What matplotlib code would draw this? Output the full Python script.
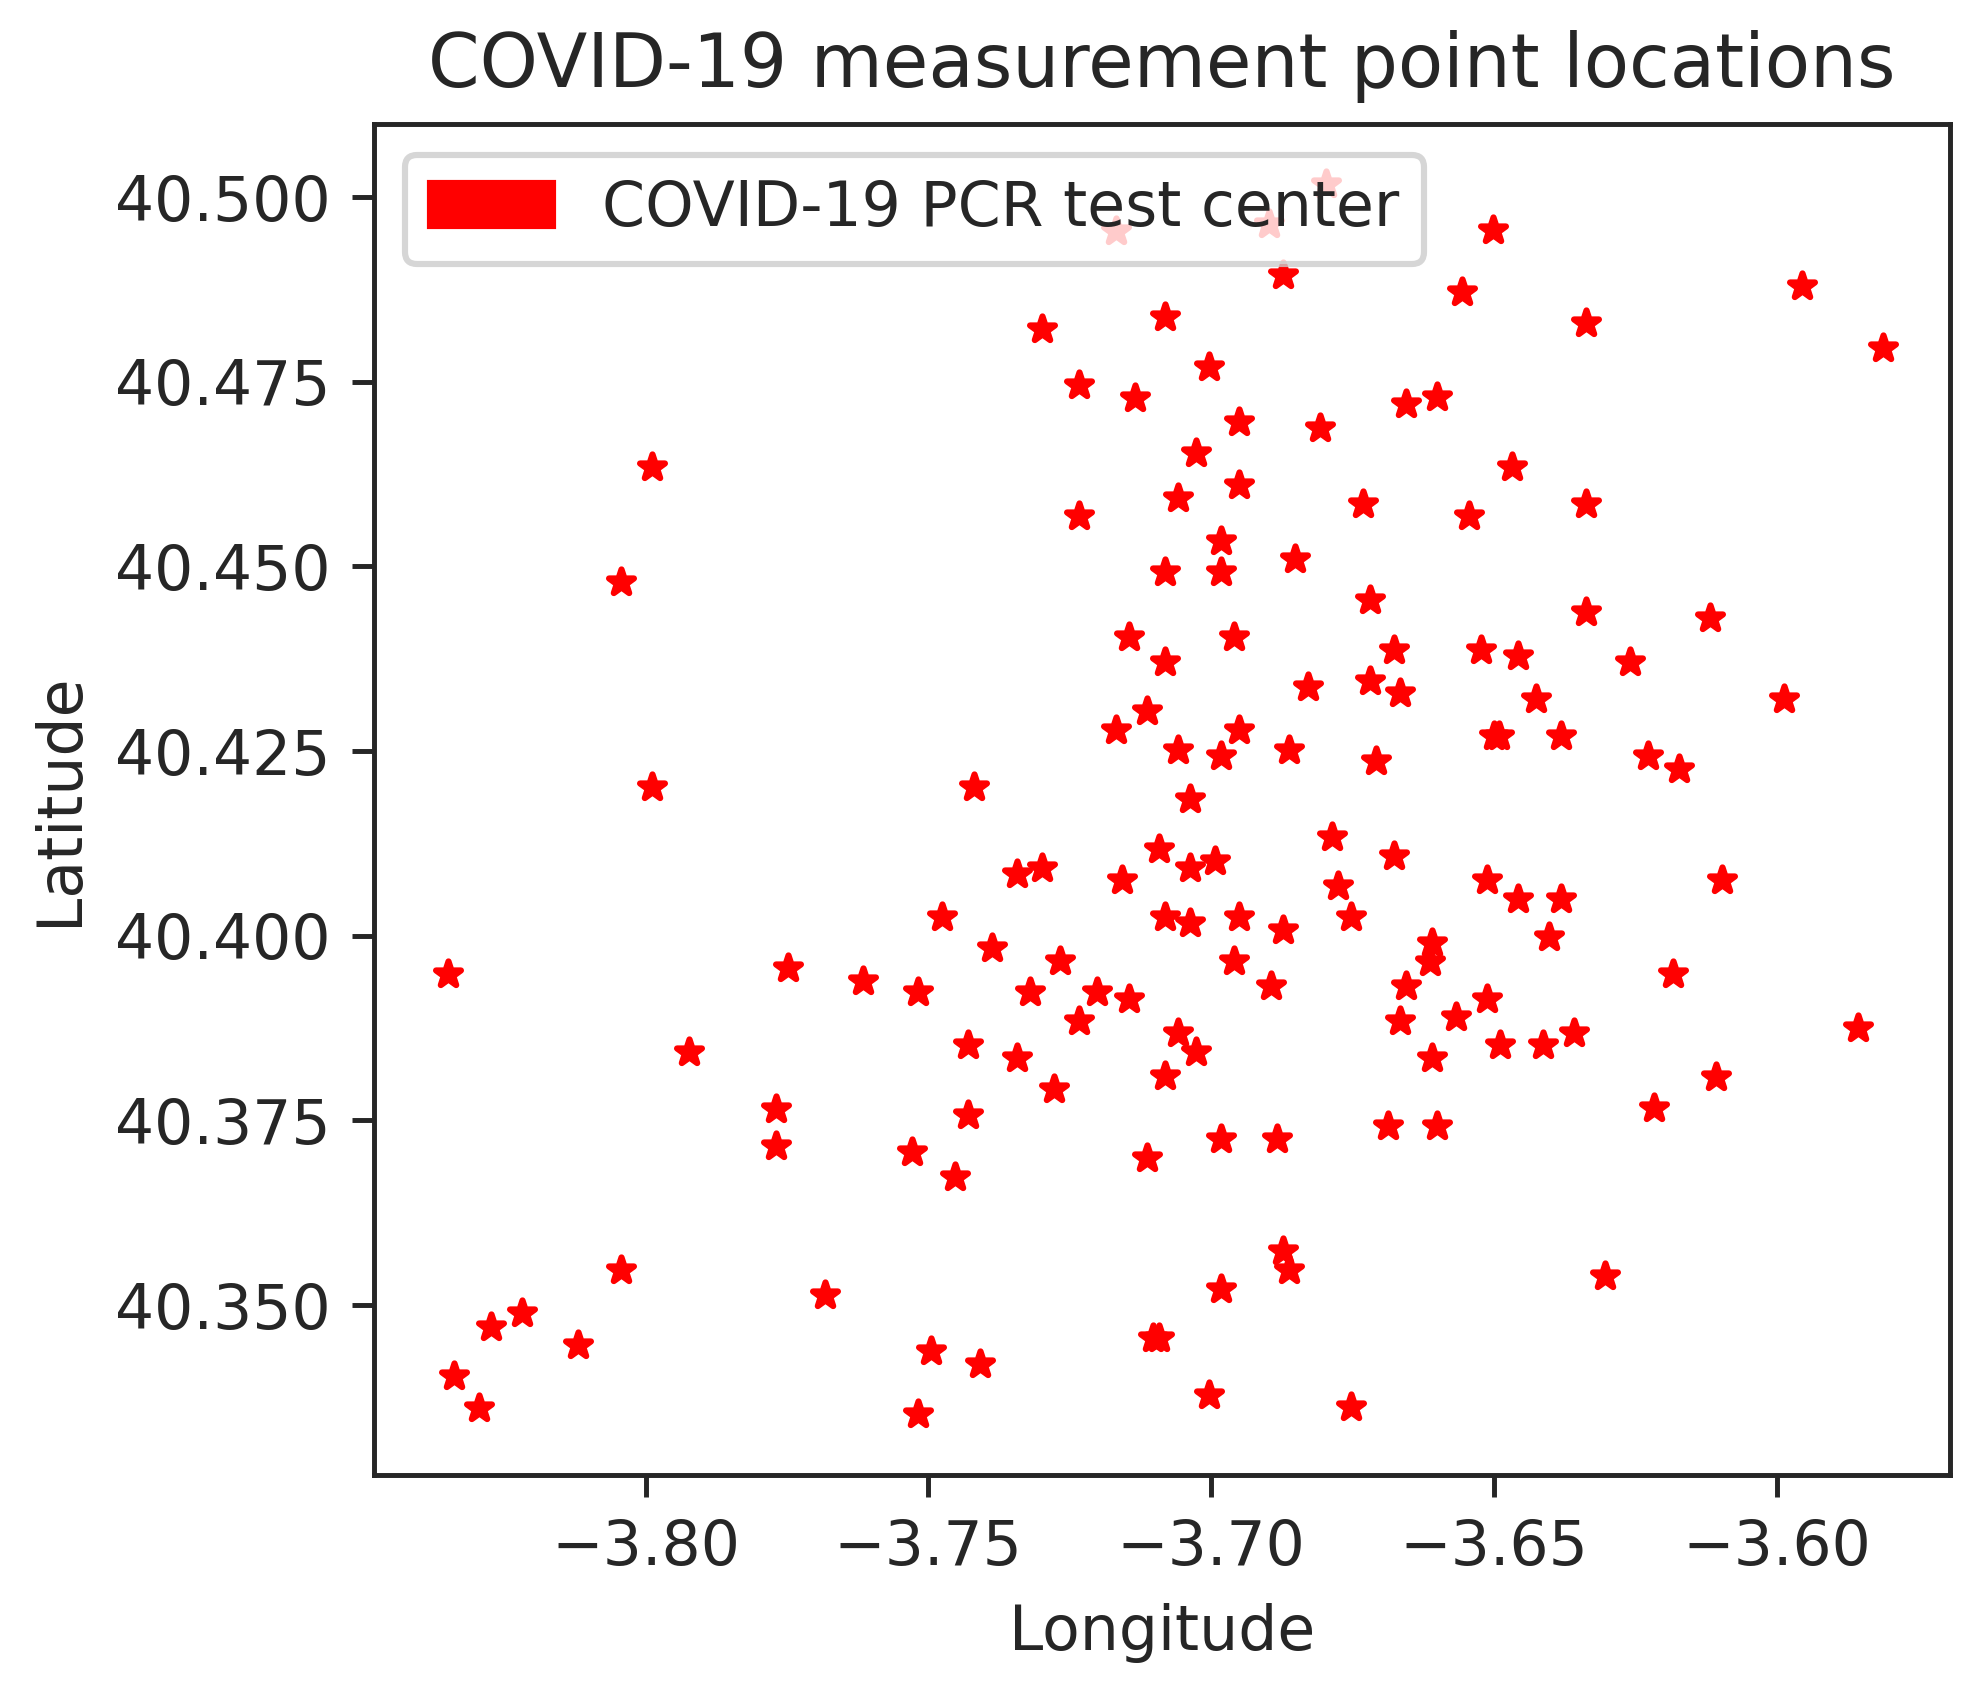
import matplotlib
matplotlib.use('Agg')
import matplotlib.pyplot as plt
import matplotlib.patches as mpatches

# test centers (lon, lat)
lon = [-3.7989,
       -3.7169, -3.6898, -3.6797, -3.6873, -3.7081, -3.7299, -3.7004, -3.7234, -3.7135, -3.6655,
       -3.6950, -3.6808, -3.7026, -3.6950, -3.7059, -3.7234, -3.6731, -3.6983, -3.6851, -3.7081, -3.6983,
       -3.6502, -3.6556, -3.5955, -3.6337, -3.5812, -3.6600, -3.6468, -3.6545, -3.6337,
       -3.8043, -3.7989, -3.8349, -3.7748, -3.7616,
       -3.6720, -3.7146, -3.6960, -3.6676, -3.7081, -3.6829, -3.6720, -3.6666, -3.7113, -3.7168,
       -3.6950, -3.7059, -3.6983, -3.6863, -3.6709, -3.7420, -3.7037, -3.6786, -3.7092, -3.6676,
       -3.7343, -3.7299, -3.7037, -3.6993, -3.7157, -3.6775, -3.7475, -3.7081, -3.7037, -3.6950,
       -3.6753, -3.6873, -3.7387, -3.7267, -3.6960, -3.7518, -3.7321, -3.7201, -3.7146, -3.6895, -3.6655,
       -3.6337, -3.6118, -3.6523, -3.6458, -3.6260, -3.6425, -3.5988, -3.6500, -3.6491, -3.6381, -3.6228,
       -3.6173, -3.6512, -3.6458, -3.6381, -3.6097, -3.6609, -3.6613, -3.6403, -3.6184, -3.6512, -3.6567,
       -3.7923, -3.7769, -3.7769, -3.8043, -3.7682, -3.8218, -3.8273, -3.8119, -3.8338, -3.8295,
       -3.7234, -3.7059, -3.7026, -3.6666, -3.6610, -3.7430, -3.7343, -3.7278, -3.7081, -3.7430,
       -3.7529, -3.7453, -3.7113, -3.6983, -3.6884, -3.6687, -3.6600, -3.6873, -3.6862, -3.6983,
       -3.7102, -3.7092, -3.7496, -3.7409, -3.7004, -3.7518, -3.6753,
       -3.6490, -3.6414, -3.6359, -3.5856, -3.6108, -3.6217, -3.6304]
lat = [40.4635,
       40.4954, 40.4963, 40.5018, 40.4895, 40.4838, 40.4821, 40.4770, 40.4745, 40.4728, 40.4720,
       40.4695, 40.4687, 40.4653, 40.4610, 40.4593, 40.4568, 40.4585, 40.4535, 40.4510, 40.4492, 40.4492,
       40.4956, 40.4872, 40.4880, 40.4830, 40.4796, 40.4729, 40.4635, 40.4568, 40.4584,
       40.4479, 40.4201, 40.3948, 40.3956, 40.3939,
       40.4455, 40.4404, 40.4404, 40.4387, 40.4371, 40.4337, 40.4345, 40.4329, 40.4304, 40.4278,
       40.4278, 40.4252, 40.4244, 40.4252, 40.4236, 40.4201, 40.4185, 40.4134, 40.4117, 40.4108,
       40.4084, 40.4092, 40.4092, 40.4101, 40.4075, 40.4067, 40.4025, 40.4025, 40.4017, 40.4025,
       40.4025, 40.4008, 40.3983, 40.3966, 40.3966, 40.3924, 40.3924, 40.3924, 40.3915, 40.3932, 40.3932,
       40.4438, 40.4430, 40.4387, 40.4379, 40.4371, 40.4320, 40.4320, 40.4270, 40.4270, 40.4270, 40.4244,
       40.4226, 40.4075, 40.4050, 40.4050, 40.4075, 40.3990, 40.3964, 40.3999, 40.3948, 40.3915, 40.3890,
       40.3843, 40.3766, 40.3716, 40.3547, 40.3514, 40.3489, 40.3471, 40.3446, 40.3404, 40.3361,
       40.3885, 40.3868, 40.3843, 40.3884, 40.3835, 40.3852, 40.3835, 40.3793, 40.3810, 40.3758,
       40.3708, 40.3674, 40.3699, 40.3725, 40.3725, 40.3742, 40.3742, 40.3573, 40.3547, 40.3522,
       40.3455, 40.3455, 40.3438, 40.3421, 40.3378, 40.3353, 40.3362,
       40.3852, 40.3852, 40.3868, 40.3875, 40.3809, 40.3767, 40.3539]

xticks = [-3.80, -3.75, -3.70, -3.65, -3.60]
yticks = [40.350, 40.375, 40.400, 40.425, 40.450, 40.475, 40.500]

plt.rcParams['text.color'] = '.15'
plt.rcParams['axes.labelcolor'] = '.15'
plt.rcParams['xtick.color'] = '.15'
plt.rcParams['ytick.color'] = '.15'
plt.rcParams['axes.edgecolor'] = '.15'

dpi = 444
fig = plt.figure(figsize=(1982 / dpi, 1691 / dpi), dpi=dpi)
ax = fig.add_axes([0.1887, 0.1277, 0.9841 - 0.1887, 0.9267 - 0.1277])

ax.scatter(lon, lat, marker='*', s=18, color='red')

ax.set_xlim(-3.8480, -3.5693)
ax.set_ylim(40.3270, 40.5099)
ax.set_xticks(xticks)
ax.set_yticks(yticks)
ax.set_xticklabels([('%.2f' % t).replace('-', '\u2212') for t in xticks])
ax.set_yticklabels(['%.3f' % t for t in yticks])

ax.set_title('COVID-19 measurement point locations', fontsize=12)
ax.set_xlabel('Longitude')
ax.set_ylabel('Latitude')

patch = mpatches.Patch(color='red', label='COVID-19 PCR test center')
ax.legend(handles=[patch], loc='upper left')

fig.savefig('out.png', dpi=dpi)
